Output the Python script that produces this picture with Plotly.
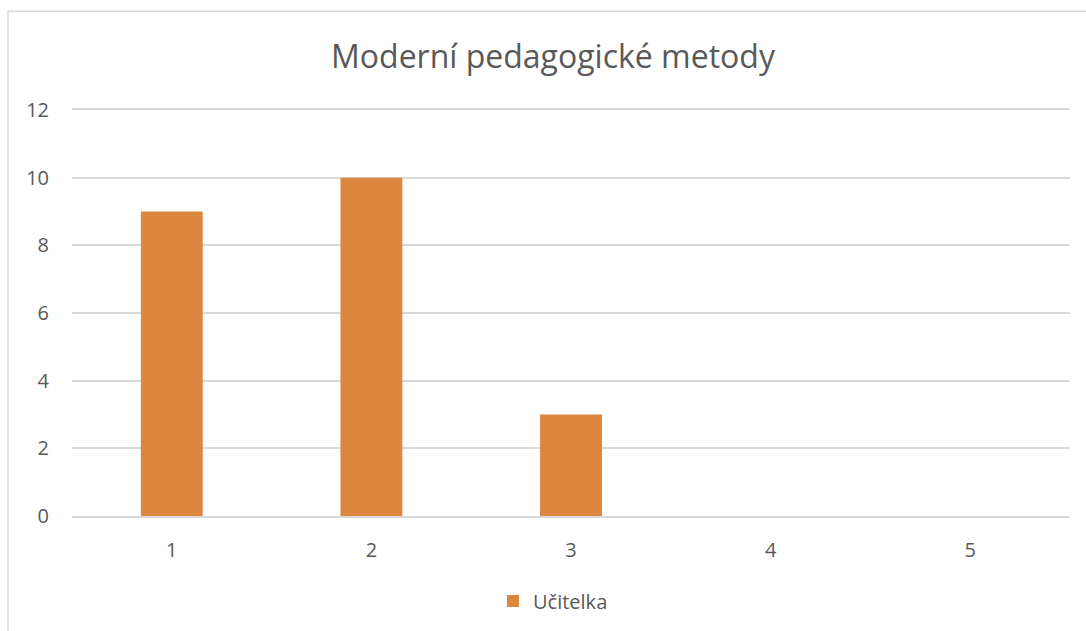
import plotly.graph_objects as go

categories = ["1", "2", "3", "4", "5"]
values = [9, 10, 3, 0, 0]
series_name = "Učitelka"
title_text = "Moderní pedagogické metody"
y_ticks = [0, 2, 4, 6, 8, 10, 12]

W, H = 1086, 631
L, R, T, B = 72, 16, 110, 114
pw, ph = W - L - R, H - T - B

fig = go.Figure()
fig.add_trace(go.Bar(
    x=categories, y=values, name=series_name,
    marker=dict(color="#DD8640", line=dict(width=0)),
))

font = "Open Sans"
gray = "#595959"
grid = "#D9D9D9"
fig.update_layout(
    width=W, height=H,
    margin=dict(l=L, r=R, t=T, b=B),
    paper_bgcolor="white", plot_bgcolor="white",
    bargap=0.69,
    title=dict(text=title_text, x=553 / W, xanchor="center",
               y=1 - 57 / H, yanchor="middle",
               font=dict(family=font, size=32, color=gray)),
    showlegend=True,
    legend=dict(orientation="h", x=(553 - L) / pw, xanchor="center",
                y=(H - B - 601) / ph, yanchor="middle",
                font=dict(family=font, size=20, color=gray),
                itemwidth=30),
    xaxis=dict(type="category", showgrid=False, zeroline=False,
               showline=True, mirror=True, linecolor=grid, linewidth=1.5,
               ticks="",
               tickfont=dict(family=font, size=20, color=gray),
               ticklabelstandoff=15),
    yaxis=dict(range=[0, 12], tickvals=y_ticks, showgrid=True,
               gridcolor=grid, gridwidth=1.5, zeroline=False,
               showline=False, ticks="",
               tickfont=dict(family=font, size=20, color=gray),
               ticklabelstandoff=22),
    shapes=[dict(type="rect", xref="paper", yref="paper",
                 x0=(8 - L) / pw, x1=1.2, y0=-0.6,
                 y1=(H - B - 11) / ph,
                 line=dict(color=grid, width=1.5), layer="below")],
)

fig.write_html("out.html", config={"displayModeBar": False},
               post_script="document.body.style.margin='0';")
